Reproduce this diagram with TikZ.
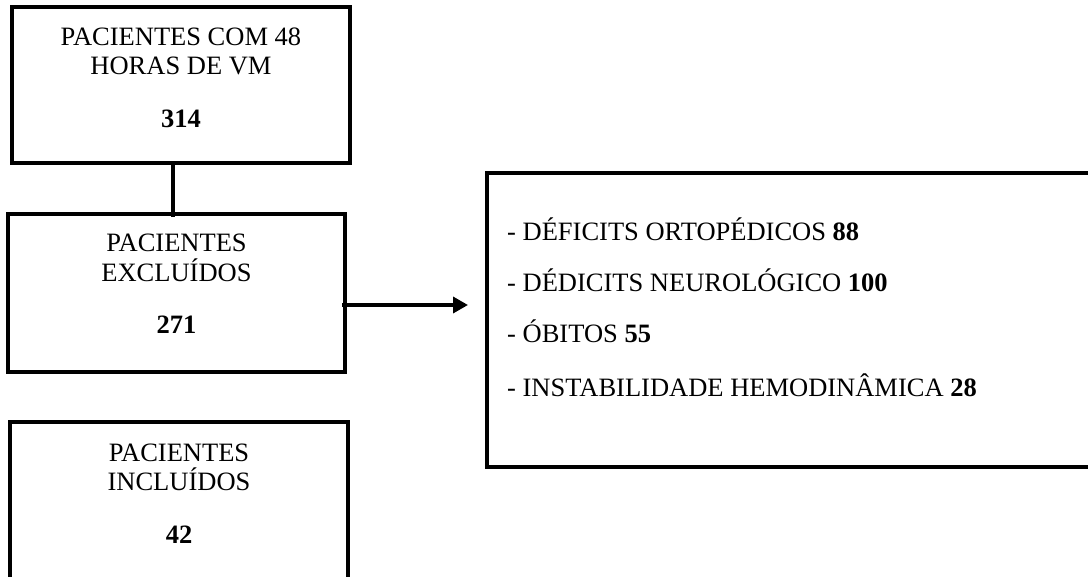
\documentclass[tikz,border=0pt]{standalone}
\usepackage{fontspec}
\setmainfont{Liberation Serif}
\usetikzlibrary{arrows.meta,calc}
\begin{document}
\begin{tikzpicture}[x=1pt,y=-1pt,
  boxstyle/.style={draw=black, line width=3.5pt, fill=white, inner sep=0pt, outer sep=0pt},
  txt/.style={anchor=base, inner sep=0pt, font=\fontsize{26.5}{30}\selectfont},
  lst/.style={anchor=base west, inner sep=0pt, font=\fontsize{26.5}{30}\selectfont},
  conn/.style={line width=4pt},
  arr/.style={line width=3.5pt, -{Triangle[length=15pt,width=16pt]}}]
\fill[white] (0,0) rectangle (1088,577);
\useasboundingbox (0,0) rectangle (1088,577);

% boxes
\node[boxstyle, minimum width=338pt, minimum height=156pt, anchor=north west] (b1) at (12,7) {};
\node[boxstyle, minimum width=337pt, minimum height=158pt, anchor=north west] (b2) at (8,214) {};
\node[boxstyle, minimum width=338pt, minimum height=157pt, anchor=north west] (b3) at (10,422) {};
\node[boxstyle, line width=4pt, minimum width=603pt, minimum height=294pt, anchor=north west] (b4) at (487,173) {};

% texts box 1
\node[txt] (t1a) at ($(b1.north)+(0,39)$) {PACIENTES COM 48};
\node[txt] (t1b) at ($(b1.north)+(0,68)$) {HORAS DE VM};
\node[txt] (t1c) at ($(b1.north)+(0,121)$) {\textbf{314}};

% texts box 2
\node[txt] (t2a) at ($(b2.north)+(0,38)$) {PACIENTES};
\node[txt] (t2b) at ($(b2.north)+(0,68)$) {EXCLUÍDOS};
\node[txt] (t2c) at ($(b2.north)+(0,120)$) {\textbf{271}};

% texts box 3
\node[txt] (t3a) at ($(b3.north)+(0,39)$) {PACIENTES};
\node[txt] (t3b) at ($(b3.north)+(0,68)$) {INCLUÍDOS};
\node[txt] (t3c) at ($(b3.north)+(0,121)$) {\textbf{42}};

% texts box 4
\node[lst] (l1) at ($(b4.north west)+(20,68)$) {- DÉFICITS ORTOPÉDICOS \textbf{88}};
\node[lst] (l2) at ($(b4.north west)+(20,119)$) {- DÉDICITS NEUROLÓGICO \textbf{100}};
\node[lst] (l3) at ($(b4.north west)+(20,170)$) {- ÓBITOS \textbf{55}};
\node[lst] (l4) at ($(b4.north west)+(20,224)$) {- INSTABILIDADE HEMODINÂMICA \textbf{28}};

% connectors
\draw[conn] ($(b1.south west)+(161,0)$) -- ($(b2.north west)+(165,3)$);
\draw[arr] ($(b2.north east)+(-3,91)$) -- ($(b4.north west)+(-19,132)$);
\end{tikzpicture}
\end{document}
